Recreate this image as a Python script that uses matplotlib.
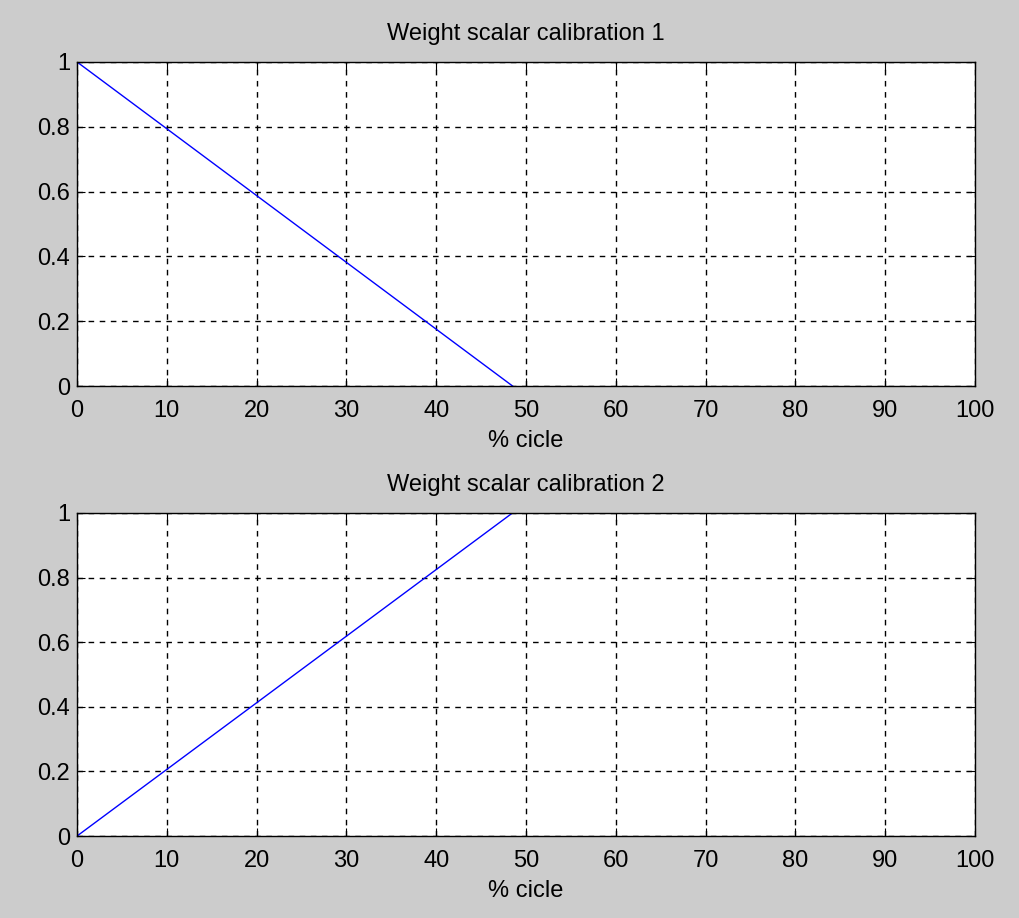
import numpy as np
import matplotlib.pyplot as plt

plt.rcParams['font.family'] = ['Liberation Sans', 'DejaVu Sans']

# data
cycle = [0, 48.5]
weight1 = [1, 0]
weight2 = [0, 1]
titles = ['Weight scalar calibration 1', 'Weight scalar calibration 2']
xticks = [0, 10, 20, 30, 40, 50, 60, 70, 80, 90, 100]
yticks = [0, 0.2, 0.4, 0.6, 0.8, 1]
yticklabels = ['0', '0.2', '0.4', '0.6', '0.8', '1']

fig = plt.figure(figsize=(10.19, 9.18), dpi=100, facecolor='#cccccc')
ax1 = fig.add_axes([0.0756, 0.5795, 0.8813, 0.353])
ax2 = fig.add_axes([0.0756, 0.0893, 0.8813, 0.352])

for ax, w, t in zip([ax1, ax2], [weight1, weight2], titles):
    ax.plot(cycle, w, color='blue', lw=1)
    ax.set_xlim(0, 100)
    ax.set_ylim(0, 1)
    ax.set_xticks(xticks)
    ax.set_yticks(yticks)
    ax.set_yticklabels(yticklabels)
    ax.tick_params(direction='in', length=6, labelsize=17, top=True, right=True)
    ax.tick_params(axis='x', pad=10)
    ax.tick_params(axis='y', pad=5)
    ax.grid(True, color='black', linestyle=(0, (4, 4)), lw=1)
    ax.set_xlabel('% cicle', fontsize=17, labelpad=6)
    ax.set_title(t, fontsize=17, pad=16)
    for s in ax.spines.values():
        s.set_linewidth(1)

fig.savefig('out.png', dpi=100, facecolor=fig.get_facecolor())
